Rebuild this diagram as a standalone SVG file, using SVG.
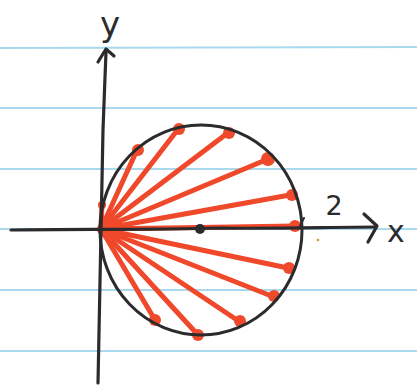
<svg xmlns="http://www.w3.org/2000/svg" width="417" height="386" viewBox="0 0 417 386">
<style>
.rule{stroke:#a9d9ec;stroke-width:2}
.ink{fill:none;stroke:#2b2b2e;stroke-linecap:round;stroke-linejoin:round}
.ray{stroke:#f0482a;stroke-width:5;stroke-linecap:round}
.tip{fill:#ef4a2c}
.lbl{font-family:"DejaVu Sans",sans-serif;fill:#2b2b2e}
</style>
<rect width="417" height="386" fill="#ffffff"/>
<g id="paper">
<line class="rule" x1="0" y1="48" x2="417" y2="47"/>
<line class="rule" x1="0" y1="108" x2="417" y2="108"/>
<line class="rule" x1="0" y1="169" x2="417" y2="169"/>
<line class="rule" x1="0" y1="229" x2="417" y2="229"/>
<line class="rule" x1="0" y1="290" x2="417" y2="290"/>
<line class="rule" x1="0" y1="351" x2="417" y2="351"/>
</g>
<g id="rays">
<line class="ray" x1="101" y1="229" x2="102" y2="204"/>
<line class="ray" x1="101" y1="229" x2="137" y2="150"/>
<line class="ray" x1="101" y1="229" x2="179" y2="128"/>
<line class="ray" x1="101" y1="229" x2="229" y2="132"/>
<line class="ray" x1="101" y1="229" x2="268" y2="159"/>
<line class="ray" x1="101" y1="229" x2="290" y2="195"/>
<line class="ray" x1="101" y1="229" x2="295" y2="226"/>
<line class="ray" x1="101" y1="229" x2="288" y2="268"/>
<line class="ray" x1="101" y1="229" x2="274" y2="297"/>
<line class="ray" x1="101" y1="229" x2="240" y2="322"/>
<line class="ray" x1="101" y1="229" x2="198" y2="335"/>
<line class="ray" x1="101" y1="229" x2="155" y2="320"/>
<circle class="tip" cx="104" cy="229" r="7"/>
<circle class="tip" cx="102" cy="205" r="4"/>
<circle class="tip" cx="138" cy="150" r="6"/>
<circle class="tip" cx="179" cy="129" r="6"/>
<circle class="tip" cx="229" cy="133" r="6"/>
<circle class="tip" cx="268" cy="159" r="7"/>
<circle class="tip" cx="292" cy="195" r="6"/>
<circle class="tip" cx="295" cy="226" r="6"/>
<circle class="tip" cx="289" cy="268" r="6"/>
<circle class="tip" cx="274" cy="296" r="6"/>
<circle class="tip" cx="240" cy="321" r="6"/>
<circle class="tip" cx="198" cy="335" r="6"/>
<circle class="tip" cx="155" cy="320" r="6"/>
</g>
<g id="axes">
<path class="ink" stroke-width="3.2" d="M11 230 C80 229 150 230 220 228 C280 229 330 227 376 227"/>
<path class="ink" stroke-width="3.2" d="M364 214 L377 226 L368 242"/>
<path class="ink" stroke-width="3.2" d="M98 383 C100 300 101 200 103 130 C104 100 105 80 106 52"/>
<path class="ink" stroke-width="3.2" d="M98 62 L106 49 L114 56"/>
</g>
<g id="circle">
<ellipse class="ink" stroke-width="3" cx="201" cy="230" rx="101" ry="105"/>
<circle cx="200" cy="229" r="5" fill="#2b2b2e"/>
<path class="ink" stroke-width="2" d="M300 226 L304 218"/>
<circle cx="318" cy="240" r="1.3" fill="#d49a40"/>
</g>
<g id="labels">
<text class="lbl" x="110" y="36" font-size="34" text-anchor="middle">y</text>
<text class="lbl" x="334" y="215" font-size="27" text-anchor="middle">2</text>
<text class="lbl" x="396" y="242" font-size="30" text-anchor="middle">x</text>
</g>
</svg>
